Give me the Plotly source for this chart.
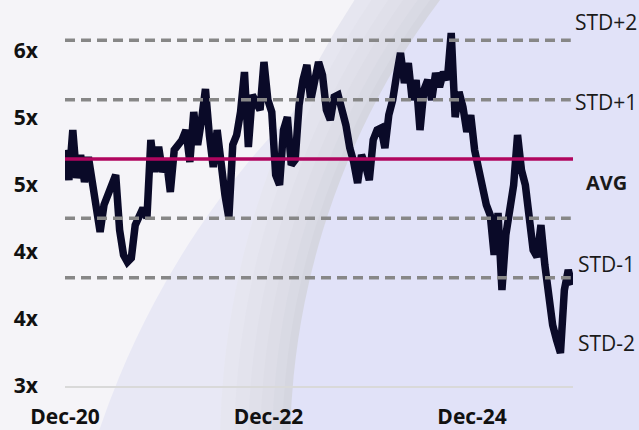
import pandas as pd
import plotly.graph_objects as go

# ---- data ----
start_date = "2020-12-01"
step = "14D"
multiple = [
    4.761, 4.537, 4.910, 4.552, 4.724, 4.522, 4.709, 4.500, 4.351, 4.149,
    4.351, 4.425, 4.537, 4.575, 4.164, 3.978, 3.925, 3.955, 4.201, 4.276,
    4.328, 4.254, 4.836, 4.597, 4.784, 4.597, 4.687, 4.448, 4.761, 4.799,
    4.836, 4.910, 4.672, 5.045, 4.799, 4.985, 5.216, 4.873, 4.634, 4.910,
    4.627, 4.425, 4.254, 4.799, 4.873, 5.045, 5.343, 4.784, 5.172, 5.097,
    5.060, 5.418, 5.134, 5.045, 4.575, 4.500, 4.910, 5.007, 4.649, 4.687,
    5.097, 5.284, 5.396, 5.134, 5.321, 5.418, 5.321, 5.060, 4.985, 5.157,
    5.172, 5.082, 4.948, 4.776, 4.672, 4.515, 4.724, 4.649, 4.537, 4.836,
    4.910, 4.925, 4.776, 5.022, 5.134, 5.321, 5.485, 5.261, 5.410, 5.134,
    5.284, 4.910, 5.209, 5.284, 5.134, 5.336, 5.231, 5.343, 5.284, 5.634,
    5.007, 5.194, 5.082, 4.896, 5.022, 4.761, 4.612, 4.500, 4.351, 4.276,
    3.978, 4.291, 3.716, 4.127, 4.291, 4.500, 4.873, 4.612, 4.500, 4.276,
    4.015, 3.963, 4.201, 3.903, 3.679, 3.455, 3.343, 3.246, 3.716, 3.866,
    3.754,
]
avg_value = 4.694
std_value = 0.443
band_names = ["STD+2", "STD+1", "AVG", "STD-1", "STD-2"]
band_mult = [2, 1, 0, -1, -2]
y_ticks = [3.0, 3.5, 4.0, 4.5, 5.0, 5.5]
x_range = ["2020-12-01", "2025-11-28"]
dash_end = "2025-11-20"

dates = pd.date_range(start_date, periods=len(multiple), freq=step)
# labels rounded half-up (as in the source: 3.5 -> 4x, 4.5 -> 5x)
y_ticktext = [f"{int(v + 0.5)}x" for v in y_ticks]

# ---- layout geometry ----
W, H = 639, 430
ML, MR, MT, MB = 65, 66, 20, 44
PW, PH = W - ML - MR, H - MT - MB


def px(x):
    return (x - ML) / PW


def py(y):
    return (H - MB - y) / PH


fig = go.Figure()

fig.add_trace(go.Scatter(
    x=dates, y=multiple, mode="lines",
    line=dict(color="#0a0a28", width=7.5),
    hoverinfo="skip", showlegend=False,
))

for name, k in zip(band_names, band_mult):
    val = avg_value + k * std_value
    if k == 0:
        line = dict(color="#b0065f", width=3.5)
        xe = x_range[1]
    else:
        line = dict(color="#878787", width=3.5, dash="10px,6px")
        xe = dash_end
    fig.add_trace(go.Scatter(
        x=[dates[0], xe], y=[val, val], mode="lines", line=line,
        hoverinfo="skip", showlegend=False,
    ))

# decorative background (sphere-like shapes)
shapes = []


def circle(cx, cy, r, color):
    return dict(type="circle", xref="paper", yref="paper", layer="below",
                x0=px(cx - r), x1=px(cx + r), y0=py(cy + r), y1=py(cy - r),
                fillcolor=color, line=dict(width=0))


shapes.append(circle(900, 700, 845, "#e8e8f5"))
ring = [(70, "#e6e6f0"), (56, "#e3e3ed"), (42, "#e0e0ea"), (30, "#dddde7"),
        (18, "#d9dae4"), (8, "#d5d6e0")]
for dr, col in ring:
    shapes.append(circle(1040, 450, 750 + dr, col))
shapes.append(circle(1040, 450, 750, "#e1e2f8"))

label_y = [22, 102, 182, 264, 343]
annotations = []
for name, ly in zip(band_names, label_y):
    annotations.append(dict(
        text=name, x=px(606), y=py(ly), xref="paper", yref="paper",
        xanchor="center", yanchor="middle", showarrow=False,
        font=dict(family="Open Sans", size=21 if name != "AVG" else 20,
                  color="#1a1a1a",
                  weight="bold" if name == "AVG" else "normal"),
    ))

fig.update_layout(
    template="none",
    width=W, height=H,
    margin=dict(l=ML, r=MR, t=MT, b=MB, pad=0),
    paper_bgcolor="#f5f4f8",
    plot_bgcolor="rgba(0,0,0,0)",
    shapes=shapes,
    annotations=annotations,
    showlegend=False,
    xaxis=dict(
        type="date", range=x_range, tick0="2020-12-01", dtick="M24",
        tickformat="%b-%y", showgrid=False, zeroline=False,
        showline=True, linecolor="#d9d9d9", linewidth=1.5,
        ticks="", ticklabelstandoff=11, automargin=False,
        tickfont=dict(family="Open Sans", size=21, color="#111111", weight="bold"),
    ),
    yaxis=dict(
        range=[3.0, 3.0 + PH / 134.0], tickmode="array",
        tickvals=y_ticks, ticktext=y_ticktext,
        showgrid=False, zeroline=False,
        showline=False, ticks="", ticklabelstandoff=26, automargin=False,
        tickfont=dict(family="Open Sans", size=21, color="#111111", weight="bold"),
    ),
)

fig.write_html(
    "out.html",
    config={"displayModeBar": False, "staticPlot": True},
    post_script="document.body.style.margin='0';document.body.style.padding='0';",
)
